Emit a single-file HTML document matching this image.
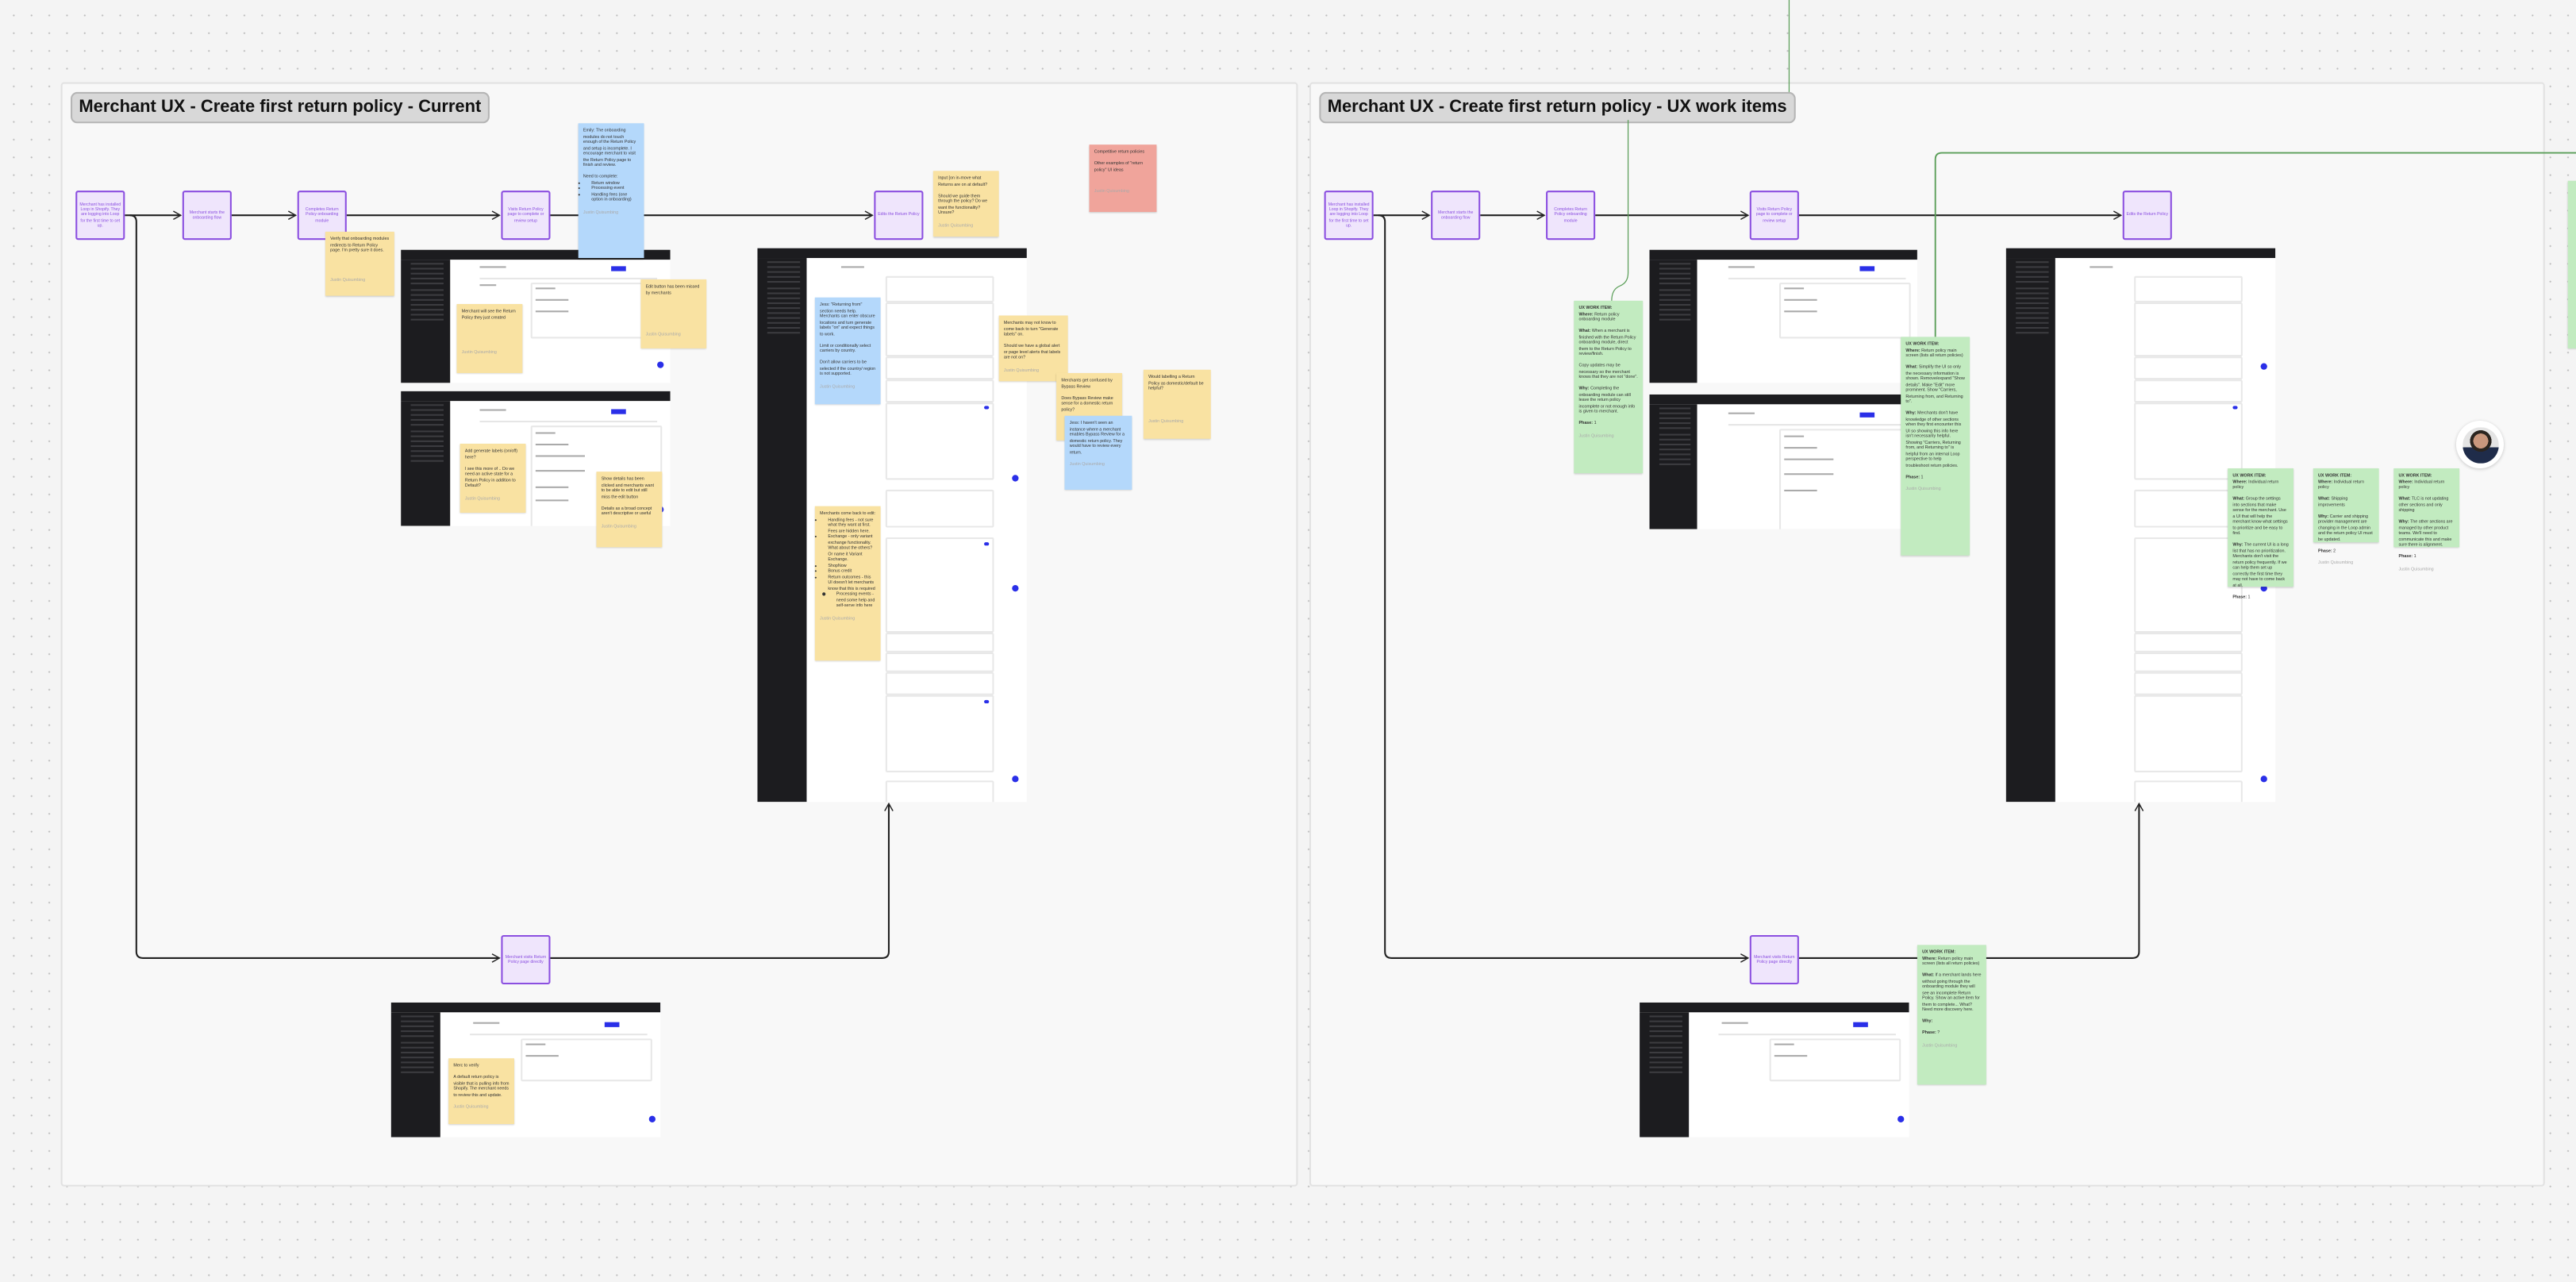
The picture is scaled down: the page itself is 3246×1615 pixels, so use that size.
<!DOCTYPE html>
<html><head><meta charset="utf-8">
<style>
html,body{margin:0;padding:0;width:3246px;height:1614px;overflow:hidden;background:#f4f4f4}
#w{position:absolute;left:0;top:0;width:1568px;height:780px;transform:scale(2.0702);transform-origin:0 0;font-family:"Liberation Sans",sans-serif;
background-color:#f4f4f4;background-image:radial-gradient(circle,#bdbdbd 0.45px,transparent 0.6px);background-size:10.8px 10.8px;background-position:3px 4px}
.a{position:absolute;box-sizing:border-box}
.frame{background:#f8f8f8;border:0.6px solid #e2e2e2;border-radius:2px}
.title{background:#d8d8d8;border:0.7px solid #b5b5b5;border-radius:4px;font-weight:bold;font-size:10.6px;color:#111;padding:2px 4px;white-space:nowrap;line-height:13px}
.node{background:#efe5fc;border:0.8px solid #8b4fe0;border-top-width:1.3px;border-bottom-width:1.3px;border-radius:1.5px;color:#8b4fe0;font-size:2.5px;line-height:3.3px;text-align:center;display:flex;align-items:center;justify-content:center;padding:1px}
.st{font-size:2.6px;line-height:3.5px;color:#333;padding:3px 3px;box-shadow:0 0.6px 1px rgba(0,0,0,.18)}
.y{background:#f9e2a2}.b{background:#b4d8fb}.g{background:#c2ebc0}.p{background:#f0a49b}
.st .au{color:#aaa;margin-top:4px}
.st b{font-weight:bold}
.st ul{margin:0;padding-left:5px}
.shot{background:#fff;overflow:hidden}
.shot .tb{position:absolute;left:0;top:0;right:0;height:5.5px;background:#1c1c1f}
.shot .sb{position:absolute;left:0;top:5.5px;bottom:0;width:18%;background:#1c1c1f}
.shot .sb i{display:block;height:0.5px;background:#3c3c40;margin:2.6px 4px 0 6px}
.shot .ln{position:absolute;height:0.5px;background:#e6e6e6}
.shot .tx{position:absolute;height:0.8px;background:#aaa}
.shot .btn{position:absolute;height:3px;width:9px;background:#2a2fe8}
.shot .card{position:absolute;border:0.4px solid #e8e8e8;border-radius:1px}
.shot .dot{position:absolute;width:4px;height:4px;border-radius:50%;background:#2a2fe8}
.tog{position:absolute;width:3px;height:1.6px;border-radius:1px;background:#ccc}
</style></head><body><div id="w">

<div class="a frame" style="left:37px;top:50px;width:753px;height:672px"></div>
<div class="a frame" style="left:797px;top:50px;width:752px;height:672px"></div>
<div class="a title" style="left:43px;top:56px">Merchant UX - Create first return policy - Current</div>
<div class="a title" style="left:803px;top:56px">Merchant UX - Create first return policy - UX work items</div>

<svg class="a" style="left:0;top:0" width="1568" height="780" viewBox="0 0 1568 780">
<defs><marker id="ar" markerWidth="6" markerHeight="6" refX="5" refY="3" orient="auto" markerUnits="userSpaceOnUse"><path d="M0.5,0.5 L5,3 L0.5,5.5" fill="none" stroke="#222" stroke-width="0.7"/></marker></defs>
<g stroke="#222" stroke-width="1" fill="none">
<path d="M76,131 H110" marker-end="url(#ar)"/>
<path d="M141,131 H180" marker-end="url(#ar)"/>
<path d="M211,131 H304" marker-end="url(#ar)"/>
<path d="M335,131 H531" marker-end="url(#ar)"/>
<path d="M79,131 Q83,131 83,135 V579 Q83,583 87,583 H304" marker-end="url(#ar)"/>
<path d="M335,583 H537 Q541,583 541,579 V489" marker-end="url(#ar)"/>
<path d="M836,131 H870" marker-end="url(#ar)"/>
<path d="M901,131 H940" marker-end="url(#ar)"/>
<path d="M971,131 H1064" marker-end="url(#ar)"/>
<path d="M1095,131 H1291" marker-end="url(#ar)"/>
<path d="M839,131 Q843,131 843,135 V579 Q843,583 847,583 H1064" marker-end="url(#ar)"/>
<path d="M1095,583 H1298 Q1302,583 1302,579 V489" marker-end="url(#ar)"/>
</g>
<g stroke="#5a9e58" stroke-width="0.6" fill="none">
<path d="M1089,0 V56"/>
<path d="M991,73 V166 Q991,172 986,174 Q981,176 981,183"/>
<path d="M1178,205 V97 Q1178,93 1182,93 H1568" stroke-width="0.9"/>
</g>
</svg>

<div class="a node" style="left:46px;top:116px;width:30px;height:30px">Merchant has installed Loop in Shopify. They are logging into Loop for the first time to set up.</div>
<div class="a node" style="left:111px;top:116px;width:30px;height:30px">Merchant starts the onboarding flow</div>
<div class="a node" style="left:181px;top:116px;width:30px;height:30px">Completes Return Policy onboarding module</div>
<div class="a node" style="left:305px;top:116px;width:30px;height:30px">Visits Return Policy page to complete or review setup</div>
<div class="a node" style="left:532px;top:116px;width:30px;height:30px">Edits the Return Policy</div>
<div class="a node" style="left:305px;top:569px;width:30px;height:30px">Merchant visits Return Policy page directly</div>

<div class="a node" style="left:806px;top:116px;width:30px;height:30px">Merchant has installed Loop in Shopify. They are logging into Loop for the first time to set up.</div>
<div class="a node" style="left:871px;top:116px;width:30px;height:30px">Merchant starts the onboarding flow</div>
<div class="a node" style="left:941px;top:116px;width:30px;height:30px">Completes Return Policy onboarding module</div>
<div class="a node" style="left:1065px;top:116px;width:30px;height:30px">Visits Return Policy page to complete or review setup</div>
<div class="a node" style="left:1292px;top:116px;width:30px;height:30px">Edits the Return Policy</div>
<div class="a node" style="left:1065px;top:569px;width:30px;height:30px">Merchant visits Return Policy page directly</div>

<div class="a shot" style="left:244px;top:152px;width:164px;height:81px"><div class="tb"></div><div class="sb"><i></i><i></i><i></i><i></i><i></i><i></i><i></i><i></i><i></i><i></i><i></i><i></i></div>
<div class="tx" style="left:48px;top:10px;width:16px"></div><div class="btn" style="left:128px;top:10px"></div><div class="ln" style="left:48px;top:17px;width:108px"></div><div class="tx" style="left:48px;top:21px;width:10px"></div><div class="card" style="left:79px;top:20px;width:78px;height:32px"></div><div class="tx" style="left:82px;top:23px;width:12px"></div><div class="tx" style="left:82px;top:30px;width:20px"></div><div class="tx" style="left:82px;top:37px;width:20px"></div><div class="dot" style="left:156px;top:68px"></div></div>
<div class="a shot" style="left:244px;top:238px;width:164px;height:82px"><div class="tb"></div><div class="sb"><i></i><i></i><i></i><i></i><i></i><i></i><i></i><i></i><i></i><i></i><i></i><i></i></div>
<div class="tx" style="left:48px;top:11px;width:16px"></div><div class="btn" style="left:128px;top:11px"></div><div class="ln" style="left:48px;top:18px;width:108px"></div><div class="card" style="left:79px;top:21px;width:78px;height:60px"></div><div class="tx" style="left:82px;top:25px;width:12px"></div><div class="tx" style="left:82px;top:32px;width:20px"></div><div class="tx" style="left:82px;top:39px;width:30px"></div><div class="tx" style="left:82px;top:48px;width:30px"></div><div class="tx" style="left:82px;top:58px;width:20px"></div><div class="tx" style="left:82px;top:66px;width:20px"></div><div class="dot" style="left:156px;top:70px"></div></div>
<div class="a shot" style="left:238px;top:610px;width:164px;height:82px"><div class="tb"></div><div class="sb"><i></i><i></i><i></i><i></i><i></i><i></i><i></i><i></i><i></i><i></i><i></i><i></i></div>
<div class="tx" style="left:50px;top:12px;width:16px"></div><div class="btn" style="left:130px;top:12px"></div><div class="ln" style="left:48px;top:19px;width:108px"></div><div class="card" style="left:79px;top:22px;width:78px;height:24px"></div><div class="tx" style="left:82px;top:25px;width:12px"></div><div class="tx" style="left:82px;top:32px;width:20px"></div><div class="dot" style="left:157px;top:69px"></div></div>

<div class="a shot" style="left:1004px;top:152px;width:163px;height:81px"><div class="tb"></div><div class="sb"><i></i><i></i><i></i><i></i><i></i><i></i><i></i><i></i><i></i><i></i><i></i><i></i></div>
<div class="tx" style="left:48px;top:10px;width:16px"></div><div class="btn" style="left:128px;top:10px"></div><div class="ln" style="left:48px;top:17px;width:108px"></div><div class="card" style="left:79px;top:20px;width:78px;height:32px"></div><div class="tx" style="left:82px;top:23px;width:12px"></div><div class="tx" style="left:82px;top:30px;width:20px"></div><div class="tx" style="left:82px;top:37px;width:20px"></div></div>
<div class="a shot" style="left:1004px;top:240px;width:163px;height:82px"><div class="tb"></div><div class="sb"><i></i><i></i><i></i><i></i><i></i><i></i><i></i><i></i><i></i><i></i><i></i><i></i></div>
<div class="tx" style="left:48px;top:11px;width:16px"></div><div class="btn" style="left:128px;top:11px"></div><div class="ln" style="left:48px;top:18px;width:108px"></div><div class="card" style="left:79px;top:21px;width:78px;height:60px"></div><div class="tx" style="left:82px;top:25px;width:12px"></div><div class="tx" style="left:82px;top:32px;width:20px"></div><div class="tx" style="left:82px;top:39px;width:30px"></div><div class="tx" style="left:82px;top:48px;width:30px"></div><div class="tx" style="left:82px;top:58px;width:20px"></div></div>
<div class="a shot" style="left:998px;top:610px;width:164px;height:82px"><div class="tb"></div><div class="sb"><i></i><i></i><i></i><i></i><i></i><i></i><i></i><i></i><i></i><i></i><i></i><i></i></div>
<div class="tx" style="left:50px;top:12px;width:16px"></div><div class="btn" style="left:130px;top:12px"></div><div class="ln" style="left:48px;top:19px;width:108px"></div><div class="card" style="left:79px;top:22px;width:78px;height:24px"></div><div class="tx" style="left:82px;top:25px;width:12px"></div><div class="tx" style="left:82px;top:32px;width:20px"></div><div class="dot" style="left:157px;top:69px"></div></div>

<div class="a shot" style="left:461px;top:151px;width:164px;height:337px"><div class="tb"></div><div class="sb"><i></i><i></i><i></i><i></i><i></i><i></i><i></i><i></i><i></i><i></i><i></i><i></i><i></i><i></i><i></i></div>
<div class="tx" style="left:51px;top:11px;width:14px"></div>
<div class="card" style="left:78px;top:17px;width:64px;height:14px"></div><div class="card" style="left:78px;top:33px;width:64px;height:31px"></div><div class="card" style="left:78px;top:66px;width:64px;height:12px"></div><div class="card" style="left:78px;top:80px;width:64px;height:12px"></div><div class="card" style="left:78px;top:94px;width:64px;height:45px"></div><div class="card" style="left:78px;top:147px;width:64px;height:21px"></div><div class="card" style="left:78px;top:176px;width:64px;height:56px"></div><div class="card" style="left:78px;top:234px;width:64px;height:10px"></div><div class="card" style="left:78px;top:246px;width:64px;height:10px"></div><div class="card" style="left:78px;top:258px;width:64px;height:12px"></div><div class="card" style="left:78px;top:272px;width:64px;height:45px"></div><div class="card" style="left:78px;top:324px;width:64px;height:13px"></div>
<div class="tog" style="left:138px;top:96px;background:#2a2fe8"></div><div class="tog" style="left:138px;top:179px;background:#2a2fe8"></div><div class="tog" style="left:138px;top:275px;background:#2a2fe8"></div>
<div class="dot" style="left:155px;top:138px"></div><div class="dot" style="left:155px;top:205px"></div><div class="dot" style="left:155px;top:321px"></div></div>

<div class="a shot" style="left:1221px;top:151px;width:164px;height:337px"><div class="tb"></div><div class="sb"><i></i><i></i><i></i><i></i><i></i><i></i><i></i><i></i><i></i><i></i><i></i><i></i><i></i><i></i><i></i></div>
<div class="tx" style="left:51px;top:11px;width:14px"></div>
<div class="card" style="left:78px;top:17px;width:64px;height:14px"></div><div class="card" style="left:78px;top:33px;width:64px;height:31px"></div><div class="card" style="left:78px;top:66px;width:64px;height:12px"></div><div class="card" style="left:78px;top:80px;width:64px;height:12px"></div><div class="card" style="left:78px;top:94px;width:64px;height:45px"></div><div class="card" style="left:78px;top:147px;width:64px;height:21px"></div><div class="card" style="left:78px;top:176px;width:64px;height:56px"></div><div class="card" style="left:78px;top:234px;width:64px;height:10px"></div><div class="card" style="left:78px;top:246px;width:64px;height:10px"></div><div class="card" style="left:78px;top:258px;width:64px;height:12px"></div><div class="card" style="left:78px;top:272px;width:64px;height:45px"></div><div class="card" style="left:78px;top:324px;width:64px;height:13px"></div>
<div class="tog" style="left:138px;top:96px;background:#2a2fe8"></div><div class="tog" style="left:138px;top:179px;background:#2a2fe8"></div>
<div class="dot" style="left:155px;top:70px"></div><div class="dot" style="left:155px;top:205px"></div><div class="dot" style="left:155px;top:321px"></div></div>

<div class="a st b" style="left:352px;top:75px;width:40px;height:82px">Emily: The onboarding modules do not touch enough of the Return Policy and setup is incomplete. I encourage merchant to visit the Return Policy page to finish and review.<br><br>Need to complete:<ul><li>Return window</li><li>Processing event</li><li>Handling fees (one option in onboarding)</li></ul><div class="au">Justin Quisumbing</div></div>
<div class="a st y" style="left:198px;top:141px;width:42px;height:39px">Verify that onboarding modules redirects to Return Policy page. I'm pretty sure it does.<div class="au" style="margin-top:14px">Justin Quisumbing</div></div>
<div class="a st y" style="left:568px;top:104px;width:40px;height:40px">Input [on in-move what Returns are on at default?<br><br>Should we guide them through the policy? Do we want the functionality? Unsure?<div class="au">Justin Quisumbing</div></div>
<div class="a st p" style="left:663px;top:88px;width:41px;height:41px">Competitive return policies<br><br>Other examples of "return policy" UI ideas<div class="au" style="margin-top:10px">Justin Quisumbing</div></div>
<div class="a st y" style="left:278px;top:185px;width:40px;height:42px">Merchant will see the Return Policy they just created<div class="au" style="margin-top:18px">Justin Quisumbing</div></div>
<div class="a st y" style="left:390px;top:170px;width:40px;height:42px">Edit button has been missed by merchants<div class="au" style="margin-top:22px">Justin Quisumbing</div></div>
<div class="a st y" style="left:280px;top:270px;width:40px;height:42px">Add generate labels (on/off) here?<br><br>I see this more of .. Do we need an active state for a Return Policy in addition to Default?<div class="au">Justin Quisumbing</div></div>
<div class="a st y" style="left:363px;top:287px;width:40px;height:46px">Show details has been clicked and merchants want to be able to edit but still miss the edit button<br><br>Details as a broad concept aren't descriptive or useful<div class="au">Justin Quisumbing</div></div>
<div class="a st b" style="left:496px;top:181px;width:40px;height:65px">Jess: "Returning from" section needs help. Merchants can enter obscure locations and turn generate labels "on" and expect things to work.<br><br>Limit or conditionally select carriers by country.<br><br>Don't allow carriers to be selected if the country/ region is not supported.<div class="au">Justin Quisumbing</div></div>
<div class="a st y" style="left:496px;top:308px;width:40px;height:94px">Merchants come back to edit:<ul><li>Handling fees - not sure what they want at first. Fees are hidden here.</li><li>Exchange - only variant exchange functionality. What about the others? Or name it Variant Exchange.</li><li>ShopNow</li><li>Bonus credit</li><li>Return outcomes - this UI doesn't let merchants know that this is required<ul><li>Processing events - need some help and self-serve info here</li></ul></li></ul><div class="au">Justin Quisumbing</div></div>
<div class="a st y" style="left:608px;top:192px;width:42px;height:40px">Merchants may not know to come back to turn "Generate labels" on.<br><br>Should we have a global alert or page level alerts that labels are not on?<div class="au">Justin Quisumbing</div></div>
<div class="a st y" style="left:643px;top:227px;width:40px;height:41px">Merchants get confused by Bypass Review<br><br>Does Bypass Review make sense for a domestic return policy?</div>
<div class="a st b" style="left:648px;top:253px;width:41px;height:45px">Jess: I haven't seen an instance where a merchant enables Bypass Review for a domestic return policy. They would have to review every return.<div class="au">Justin Quisumbing</div></div>
<div class="a st y" style="left:696px;top:225px;width:41px;height:42px">Would labelling a Return Policy as domestic/default be helpful?<div class="au" style="margin-top:16px">Justin Quisumbing</div></div>
<div class="a st y" style="left:273px;top:644px;width:40px;height:40px">Merc to verify<br><br>A default return policy is visible that is pulling info from Shopify. The merchant needs to review this and update.<div class="au">Justin Quisumbing</div></div>

<div class="a st g" style="left:958px;top:183px;width:42px;height:105px"><b>UX WORK ITEM:</b><br><b>Where:</b> Return policy onboarding module<br><br><b>What:</b> When a merchant is finished with the Return Policy onboarding module, direct them to the Return Policy to review/finish.<br><br>Copy updates may be necessary so the merchant knows that they are not "done".<br><br><b>Why:</b> Completing the onboarding module can still leave the return policy incomplete or not enough info is given to merchant.<br><br><b>Phase:</b> 1<div class="au">Justin Quisumbing</div></div>
<div class="a st g" style="left:1157px;top:205px;width:42px;height:133px"><b>UX WORK ITEM:</b><br><b>Where:</b> Return policy main screen (lists all return policies)<br><br><b>What:</b> Simplify the UI so only the necessary information is shown. Remove/expand "Show details". Make "Edit" more prominent. Show "Carriers, Returning from, and Returning to".<br><br><b>Why:</b> Merchants don't have knowledge of other sections when they first encounter this UI so showing this info here isn't necessarily helpful. Showing "Carriers, Returning from, and Returning to" is helpful from an internal Loop perspective to help troubleshoot return policies.<br><br><b>Phase:</b> 1<div class="au">Justin Quisumbing</div></div>
<div class="a st g" style="left:1356px;top:285px;width:40px;height:72px"><b>UX WORK ITEM:</b><br><b>Where:</b> Individual return policy<br><br><b>What:</b> Group the settings into sections that make sense for the merchant. Use a UI that will help the merchant know what settings to prioritize and be easy to find.<br><br><b>Why:</b> The current UI is a long list that has no prioritization. Merchants don't visit the return policy frequently. If we can help them set up correctly the first time they may not have to come back at all.<br><br><b>Phase:</b> 1</div>
<div class="a st g" style="left:1408px;top:285px;width:40px;height:45px"><b>UX WORK ITEM:</b><br><b>Where:</b> Individual return policy<br><br><b>What:</b> Shipping improvements<br><br><b>Why:</b> Carrier and shipping provider management are changing in the Loop admin and the return policy UI must be updated.<br><br><b>Phase:</b> 2<div class="au">Justin Quisumbing</div></div>
<div class="a st g" style="left:1457px;top:285px;width:40px;height:48px"><b>UX WORK ITEM:</b><br><b>Where:</b> Individual return policy<br><br><b>What:</b> TLC is not updating other sections and only shipping<br><br><b>Why:</b> The other sections are managed by other product teams. We'll need to communicate this and make sure there is alignment.<br><br><b>Phase:</b> 1<div class="au">Justin Quisumbing</div></div>
<div class="a st g" style="left:1167px;top:575px;width:42px;height:85px"><b>UX WORK ITEM:</b><br><b>Where:</b> Return policy main screen (lists all return policies)<br><br><b>What:</b> If a merchant lands here without going through the onboarding module they will see an incomplete Return Policy. Show an active item for them to complete... What? Need more discovery here.<br><br><b>Why:</b><br><br><b>Phase:</b> ?<div class="au">Justin Quisumbing</div></div>
<div class="a st g" style="left:1563px;top:110px;width:10px;height:102px"></div>

<div class="a" style="left:1495px;top:256px;width:29px;height:29px;border-radius:50%;background:#fff;box-shadow:0 0.5px 2px rgba(0,0,0,.2)"><div style="position:absolute;left:3.5px;top:3.5px;width:22px;height:22px;border-radius:50%;background:radial-gradient(circle at 50% 38%,#c9977d 0 4.5px,#2b2520 4.6px 6.5px,transparent 6.6px),linear-gradient(#e4e4e4 55%,#1f2c4a 56%)"></div></div>

</div></body></html>
